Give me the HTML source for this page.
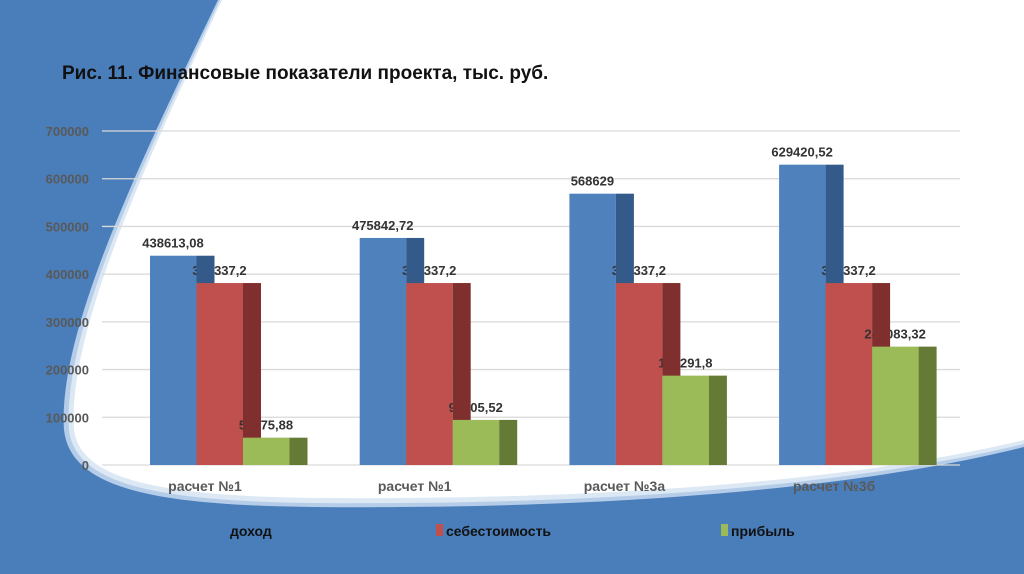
<!DOCTYPE html>
<html><head><meta charset="utf-8"><style>
html,body{margin:0;padding:0;width:1024px;height:574px;overflow:hidden;background:#4a7ebb}
svg{display:block}
text{font-family:"Liberation Sans",sans-serif}
</style></head><body>
<svg id="chart" width="1024" height="574" viewBox="0 0 1024 574">
<rect width="1024" height="574" fill="#4a7ebb"/>
<g>
<path d="M218,0 L1024,0 L1024,447 C900,478 700,505 400,507 C190,509 72,500 64,430 C57,330 146,150 218,0 Z" fill="#b5cde8"/>
<path d="M220,0 L1024,0 L1024,444 C900,474 700,501 400,503 C195,505 77,496 69,430 C62,330 149,150 220,0 Z" fill="#dce8f4"/>
<path d="M222,0 L1024,0 L1024,440 C900,470 700,496 400,498 C200,500 82,491 74,430 C67,330 152,150 222,0 Z" fill="#ffffff"/>
</g>
<text x="62" y="79" font-size="19" font-weight="bold" fill="#111">Рис. 11. Финансовые показатели проекта, тыс. руб.</text>
<g id="grid"></g><g id="plot"></g><g id="cats"></g>
<g>
<text x="230" y="536" font-size="14" font-weight="bold" fill="#111">доход</text>
<rect x="436" y="524" width="7" height="12" fill="#c0504d"/>
<text x="446" y="536" font-size="14" font-weight="bold" fill="#111">себестоимость</text>
<rect x="721" y="524" width="7" height="12" fill="#9bbb59"/>
<text x="731" y="536" font-size="14" font-weight="bold" fill="#111">прибыль</text>
</g>
</svg>
<script>
const categories=["расчет №1","расчет №1","расчет №3а","расчет №3б"];
const income=[438613.08,475842.72,568629,629420.52];
const cost=[381337.2,381337.2,381337.2,381337.2];
const profit=[57275.88,94505.52,187291.8,248083.32];
const incomeLabels=["438613,08","475842,72","568629","629420,52"];
const costLabels=["381337,2","381337,2","381337,2","381337,2"];
const profitLabels=["57275,88","94505,52","187291,8","248083,32"];
const ticks=[0,100000,200000,300000,400000,500000,600000,700000];
const NS="http://www.w3.org/2000/svg";
const y=v=>465-v*334/700000;
const gx=i=>150+i*209.7;
function mk(t,a,p){const e=document.createElementNS(NS,t);for(const k in a)e.setAttribute(k,a[k]);p.appendChild(e);return e;}
const grid=document.getElementById('grid'),plot=document.getElementById('plot'),cats=document.getElementById('cats');
ticks.forEach(t=>{
 const l=mk('line',{x1:102,x2:960,y1:y(t),y2:y(t),stroke:'#d9d9d9','stroke-width':1.3},grid);
 
 
 const tx=mk('text',{x:89,y:y(t)+5,'text-anchor':'end','font-size':13,'font-weight':'bold',fill:'#595959'},grid);
 tx.textContent=t;
 
 
});
const series=[[income,incomeLabels,'#4f81bd','#335a89','income'],[cost,costLabels,'#c0504d','#7f2f2d','cost'],[profit,profitLabels,'#9bbb59','#647a35','profit']];
function label(i,j){
 const s=series[j], x0=gx(i)+j*46.5, top=y(s[0][i]);
 const lb=mk('text',{x:x0+23,y:top-8,'text-anchor':'middle','font-size':13,'font-weight':'bold',fill:'#333'},plot);
 lb.textContent=s[1][i];
 
 
}
categories.forEach((c,i)=>{
 series.forEach((s,j)=>{
  const x0=gx(i)+j*46.5, top=y(s[0][i]);
  const f=mk('rect',{x:x0,y:top,width:46.5,height:465-top,fill:s[2]},plot);
  
  
  if(j===0) label(i,0);
  if(j+1<series.length) label(i,j+1);
  const side=mk('rect',{x:x0+46.5,y:top,width:18,height:465-top,fill:s[3]},plot);
  
  
 });
 const ct=mk('text',{x:gx(i)+55,y:491,'text-anchor':'middle','font-size':14,'font-weight':'bold',fill:'#595959'},cats);
 ct.textContent=c;
 
 
});
</script>
</body></html>
